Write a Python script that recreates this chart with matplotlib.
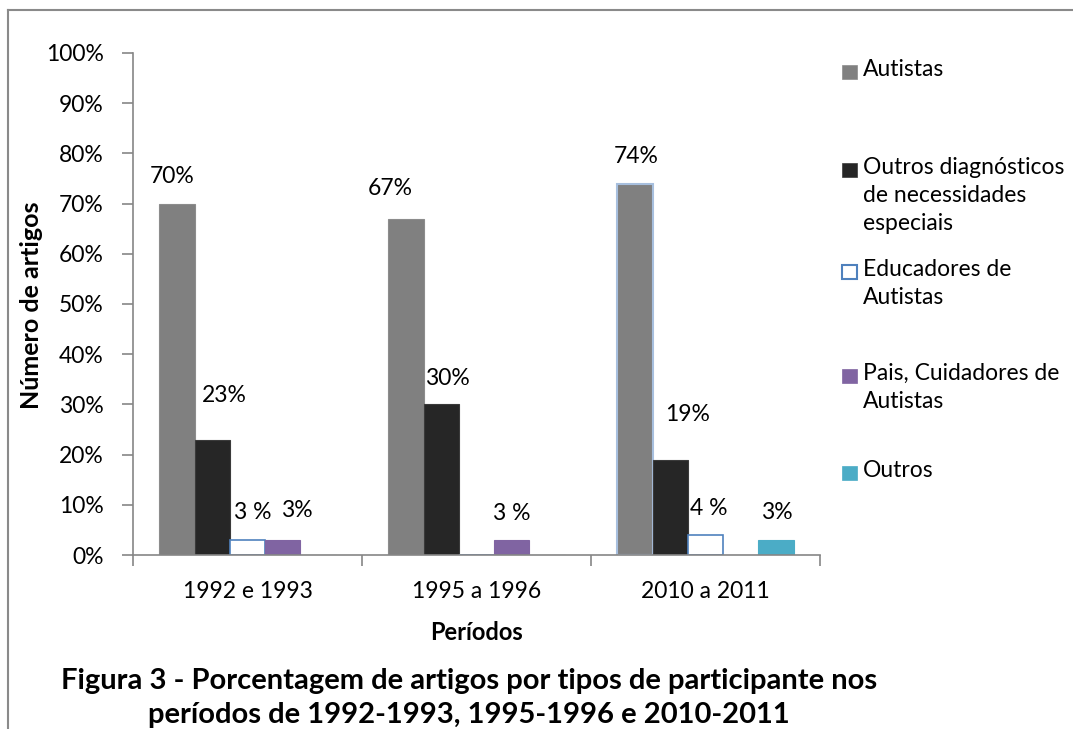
import matplotlib
matplotlib.use("Agg")
import matplotlib.pyplot as plt
from matplotlib.patches import Rectangle
from matplotlib.lines import Line2D
from matplotlib.ticker import FuncFormatter
import numpy as np

plt.rcParams['font.family'] = ['Lato', 'DejaVu Sans']

# --- Data ---
periods = ["1992 e 1993", "1995 a 1996", "2010 a 2011"]
series = ["Autistas",
          "Outros diagnósticos\nde necessidades\nespeciais",
          "Educadores de\nAutistas",
          "Pais, Cuidadores de\nAutistas",
          "Outros"]
autistas = [70, 67, 74]
outros_diag = [23, 30, 19]
educadores = [3, 0, 4]
pais = [3, 3, 0]
outros = [0, 0, 3]

# data labels: (series index, period index, text)
label_series = [0, 1, 2, 3, 0, 1, 3, 0, 1, 2, 4]
label_period = [0, 0, 0, 0, 1, 1, 1, 2, 2, 2, 2]
label_text = ["70%", "23%", "3 %", "3%", "67%", "30%", "3 %", "74%", "19%", "4 %", "3%"]

# --- Styling / layout ---
faces = ["#808080", "#262626", "white", "#8064A2", "#4BACC6"]
edges = ["#8c8c8c", "#3a3a3a", "#4F81BD", "#8064A2", "#4BACC6"]
# pixel offsets of each data label from its bar top (hand-placed in original)
label_dx = [-5, 12, 5, 14, -16, 6, 0, 1, 17, 3, 1]
label_dy = [27, 44, 27, 29, 30, 26, 26, 27, 45, 26, 27]
legend_y = [72, 170, 272, 376, 473]   # pixel rows of first legend line
FS = 16.5

W, H = 1073, 729
fig = plt.figure(figsize=(W / 100, H / 100), dpi=100)
ax = fig.add_axes([133 / W, 1 - 555 / H, (820 - 133) / W, (555 - 53) / H])

values = [autistas, outros_diag, educadores, pais, outros]
n = len(series)
w = 1 / 6.5
x = np.arange(len(periods))
bars = []
for j, vals in enumerate(values):
    pos = x + (j - (n - 1) / 2) * w
    b = ax.bar(pos, vals, width=w, color=faces[j], edgecolor=edges[j],
               linewidth=1.2 if j == 2 else 0.8, zorder=2)
    bars.append(b)
# the 2010-2011 Autistas bar has a light blue outline in the original
bars[0][2].set_edgecolor("#A7BFDE")
bars[0][2].set_linewidth(1.5)

for s, p, t, dx, dy in zip(label_series, label_period, label_text, label_dx, label_dy):
    r = bars[s][p]
    ax.annotate(t, (r.get_x() + r.get_width() / 2, r.get_height()),
                xytext=(dx, dy), textcoords="offset pixels",
                ha="center", va="center", fontsize=FS, color="black")

ax.set_xlim(-0.5, len(periods) - 0.5)
ax.set_ylim(0, 100)
ax.set_yticks(np.arange(0, 101, 10))
ax.yaxis.set_major_formatter(FuncFormatter(lambda v, _: f"{int(v)}%"))
ax.set_xticks(np.arange(len(periods) + 1) - 0.5, minor=False)
ax.set_xticklabels([])
ax.set_xticks(x, minor=True)
ax.set_xticklabels(periods, minor=True)
ax.tick_params(axis="x", which="minor", length=0, pad=19, labelsize=FS)
ax.tick_params(axis="x", which="major", length=8, width=1.2, color="#868686", direction="out")
ax.tick_params(axis="y", length=8, width=1.2, color="#868686", direction="out", pad=13, labelsize=FS)

for side in ["top", "right"]:
    ax.spines[side].set_visible(False)
for side in ["left", "bottom"]:
    ax.spines[side].set_color("#868686")
    ax.spines[side].set_linewidth(1.2)

fig.text(32 / W, 1 - 305 / H, "Número de artigos", rotation=90, ha="center", va="center",
         fontsize=18, fontweight="bold")
fig.text(477 / W, 1 - 632 / H, "Períodos", ha="center", va="center",
         fontsize=17, fontweight="bold")
fig.text(469 / W, 1 - 681 / H,
         "Figura 3 - Porcentagem de artigos por tipos de participante nos",
         ha="center", va="center", fontsize=21, fontweight="bold")
fig.text(469 / W, 1 - 715 / H, "períodos de 1992-1993, 1995-1996 e 2010-2011",
         ha="center", va="center", fontsize=21, fontweight="bold")

# legend drawn by hand to keep Excel's uneven spacing
for j, yy in enumerate(legend_y):
    fig.patches.append(Rectangle((842 / W, 1 - (yy + 7) / H), 15 / W, 14 / H,
                                 transform=fig.transFigure, facecolor=faces[j],
                                 edgecolor=edges[j], linewidth=1.5 if j == 2 else 0.5))
    fig.text(863 / W, 1 - (yy - 13) / H, series[j], ha="left", va="top",
             fontsize=FS, linespacing=1.42)

# outer frame (only left and top visible)
fig.add_artist(Line2D([8 / W, 8 / W], [0, 1 - 10 / H], transform=fig.transFigure,
                      color="#8a8a8a", linewidth=1.5))
fig.add_artist(Line2D([8 / W, 1], [1 - 10 / H, 1 - 10 / H], transform=fig.transFigure,
                      color="#8a8a8a", linewidth=1.5))

fig.savefig("out.png", dpi=100)
